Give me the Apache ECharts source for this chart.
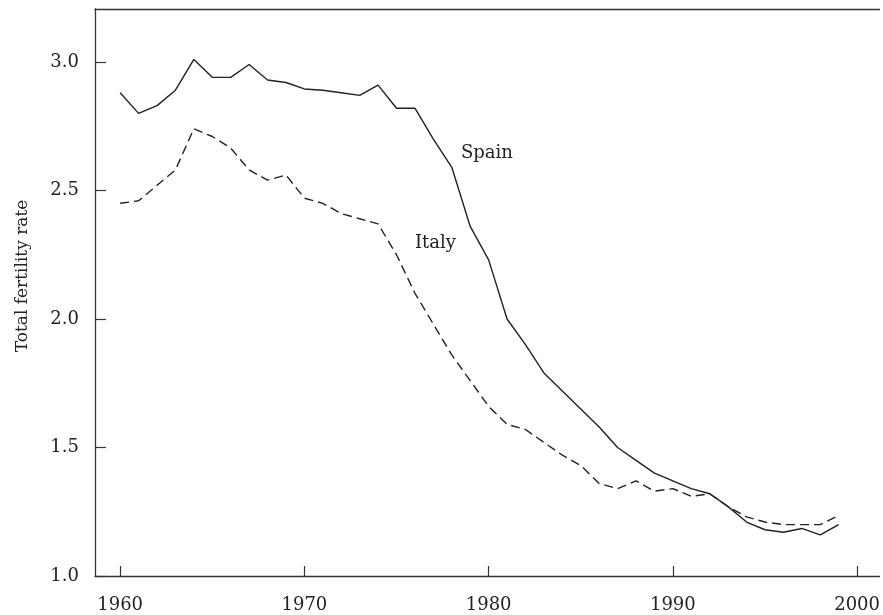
<!DOCTYPE html>
<html>
<head>
<meta charset="utf-8">
<script src="https://cdn.jsdelivr.net/npm/echarts@6/dist/echarts.min.js"></script>
<style>html,body{margin:0;padding:0;background:#fff}#c{width:883px;height:615px}</style>
</head>
<body>
<div id="c"></div>
<script>
var years = [];
for (var y = 1960; y <= 1999; y++) years.push(y);
var spain = [2.88,2.80,2.83,2.89,3.01,2.94,2.94,2.99,2.93,2.92,
             2.895,2.89,2.88,2.87,2.91,2.82,2.82,2.70,2.59,2.36,
             2.23,2.00,1.90,1.79,1.72,1.65,1.58,1.50,1.45,1.40,
             1.37,1.34,1.32,1.27,1.21,1.18,1.17,1.185,1.16,1.20];
var italy = [2.45,2.46,2.52,2.58,2.74,2.71,2.665,2.58,2.54,2.56,
             2.47,2.45,2.41,2.39,2.37,2.25,2.10,1.98,1.86,1.76,
             1.66,1.59,1.57,1.52,1.47,1.43,1.36,1.34,1.37,1.33,
             1.34,1.31,1.32,1.27,1.23,1.21,1.20,1.20,1.20,1.235];
var xTicks = [1960,1970,1980,1990,2000];
var yTicks = [1.0,1.5,2.0,2.5,3.0];
var yAxisTitle = 'Total fertility rate';
var seriesNames = ['Spain','Italy'];

var font = 'DejaVu Serif';
var ink = '#222';
function pairs(vals){ return years.map(function(yr,i){ return [yr, vals[i]]; }); }

var chart = echarts.init(document.getElementById('c'), null, {renderer:'canvas'});
chart.setOption({
  animation: false,
  backgroundColor: '#fff',
  grid: {left: 95, right: 0, top: 9, bottom: 39},
  xAxis: [{
    type: 'value', min: 1958.634, max: 2001.215,
    axisLine: {show: true, lineStyle: {color: '#333', width: 1.3}},
    axisTick: {show: true, inside: true, length: 10, customValues: xTicks, lineStyle: {color: '#333', width: 1.2}},
    axisLabel: {customValues: xTicks, margin: 20, color: ink, fontFamily: font, fontSize: 18,
      formatter: function(v){ return String(Math.round(v)); }},
    splitLine: {show: false}
  },{
    type: 'value', position: 'top', min: 1958.634, max: 2001.215,
    axisLine: {show: true, onZero: false, lineStyle: {color: '#333', width: 1.3}},
    axisTick: {show: false}, axisLabel: {show: false}, splitLine: {show: false}
  }],
  yAxis: {
    type: 'value', min: 1.0, max: 3.206,
    axisLine: {show: true, lineStyle: {color: '#333', width: 1.3}},
    axisTick: {show: true, inside: true, length: 11, customValues: yTicks, lineStyle: {color: '#333', width: 1.2}},
    axisLabel: {customValues: yTicks, margin: 16, color: ink, fontFamily: font, fontSize: 18,
      formatter: function(v){ return v.toFixed(1); }},
    splitLine: {show: false}
  },
  graphic: [
    {type: 'text', x: 23, y: 276, rotation: Math.PI/2,
     style: {text: yAxisTitle, fill: ink, font: '17px "DejaVu Serif"', align: 'center', verticalAlign: 'middle'}},
    {type: 'text', x: 461, y: 153,
     style: {text: seriesNames[0], fill: ink, font: '18px "DejaVu Serif"', align: 'left', verticalAlign: 'middle'}},
    {type: 'text', x: 415, y: 243,
     style: {text: seriesNames[1], fill: ink, font: '18px "DejaVu Serif"', align: 'left', verticalAlign: 'middle'}}
  ],
  series: [{
    name: seriesNames[0], type: 'line', data: pairs(spain), showSymbol: false, symbol: 'none',
    lineStyle: {color: ink, width: 1.4}
  },{
    name: seriesNames[1], type: 'line', data: pairs(italy), showSymbol: false, symbol: 'none',
    lineStyle: {color: ink, width: 1.4, type: [9,5]}
  }]
});
</script>
</body>
</html>
